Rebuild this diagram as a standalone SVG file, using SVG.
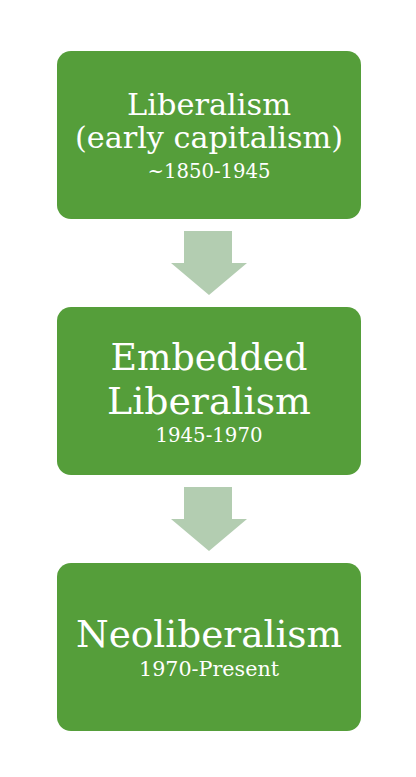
<svg xmlns="http://www.w3.org/2000/svg" width="416" height="777" viewBox="0 0 416 777">
<style>
.box{fill:#559E3A;}
.arr{fill:#B3CDB1;}
text{font-family:"DejaVu Serif","Liberation Serif",serif;fill:#FFFFFF;text-anchor:middle;}
.big{font-size:37px;}
.mid{font-size:30px;}
.sub{font-size:20px;}
</style>
<rect width="416" height="777" fill="#FFFFFF"/>
<g id="connectors">
<polygon class="arr" points="184,231 232,231 232,263 247,263 209,295 171,263 184,263"/>
<polygon class="arr" points="184,487 232,487 232,519 247,519 209,551 171,519 184,519"/>
</g>
<g id="node-liberalism">
<rect class="box" x="57" y="51" width="304" height="168" rx="14"/>
<text class="mid" x="209" y="115" textLength="164" lengthAdjust="spacingAndGlyphs">Liberalism</text>
<text class="mid" x="209" y="148" textLength="268" lengthAdjust="spacingAndGlyphs">(early capitalism)</text>
<text class="sub" x="209" y="177.5" textLength="123" lengthAdjust="spacingAndGlyphs">~1850-1945</text>
</g>
<g id="node-embedded">
<rect class="box" x="57" y="307" width="304" height="168" rx="14"/>
<text class="big" x="209" y="369.5" textLength="197" lengthAdjust="spacingAndGlyphs">Embedded</text>
<text class="big" x="209" y="414" textLength="204" lengthAdjust="spacingAndGlyphs">Liberalism</text>
<text class="sub" x="209" y="442" textLength="107" lengthAdjust="spacingAndGlyphs">1945-1970</text>
</g>
<g id="node-neoliberalism">
<rect class="box" x="57" y="563" width="304" height="168" rx="14"/>
<text class="big" x="209" y="647" textLength="266" lengthAdjust="spacingAndGlyphs">Neoliberalism</text>
<text class="sub" x="209" y="676" textLength="140" lengthAdjust="spacingAndGlyphs">1970-Present</text>
</g>
</svg>
